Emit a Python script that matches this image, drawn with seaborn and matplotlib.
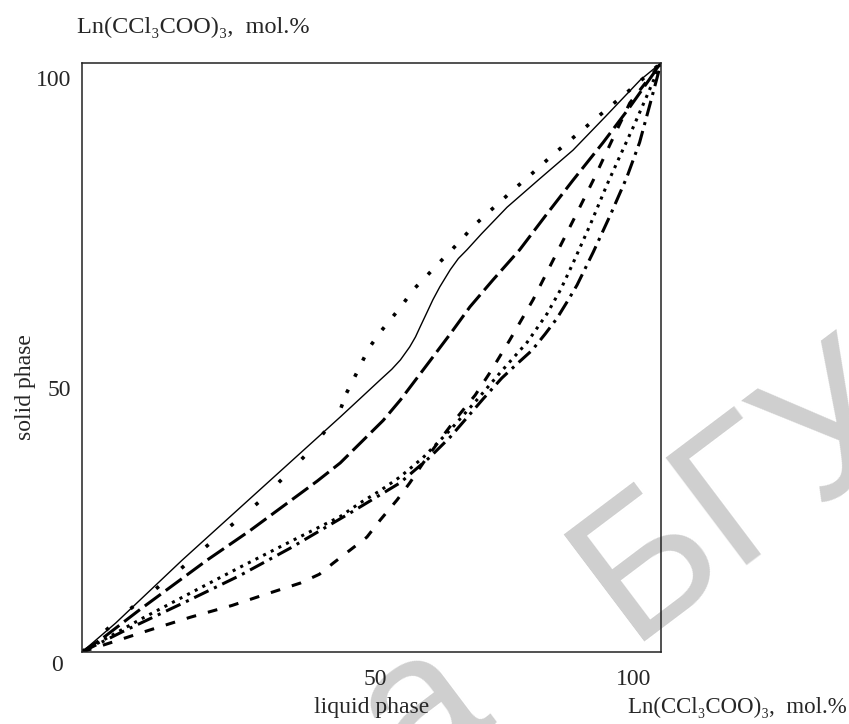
import numpy as np
import pandas as pd
import matplotlib
matplotlib.use('Agg')
import matplotlib.pyplot as plt
import matplotlib.transforms as mtransforms
import seaborn as sns

# ── data: liquid phase (x) vs solid phase (y), mol.% ──
solid_x = [0, 5.8, 17.3, 31, 44.6, 48, 51.5, 53.5, 55, 56.6, 57.6, 58.4, 59.6, 60.6, 61.8,
           63.6, 65, 66.5, 69, 73.4, 79, 84.8, 90.5, 96.4, 100]
solid_y = [0, 4.9, 15.6, 27.8, 39.9, 43, 46.2, 48, 49.6, 51.8, 53.5, 55.2, 57.7, 59.8, 62,
           64.9, 66.8, 68.3, 71, 75.5, 80.3, 85.2, 91, 97.1, 100]

sparse_x = [0, 7.4, 12.1, 16.8, 21.2, 25.9, 30.6, 34.7, 39, 42.8, 44.6, 45.7, 46.6, 47.7, 48.7,
            49.7, 51.5, 53.5, 55.3, 57.2, 59.2, 61.3, 63.4, 65.6, 67.5, 69.9, 72.2, 74.4,
            76.9, 81.3, 86, 90.7, 95.2, 100]
sparse_y = [0, 6.6, 10.2, 13.9, 17.7, 21.6, 25.5, 29.5, 33.8, 38.5, 41.1, 44, 45.7, 47.9, 49.9,
            51.8, 54.3, 56.7, 58.9, 61.5, 63.5, 65.7, 67.8, 70.1, 72.2, 74.4, 76.4, 78.4,
            80.5, 84.4, 88.3, 92.2, 95.9, 100]
SPARSE_SPLIT = 11   # dots are spaced wider below the jump than above it

longdash_x = [0, 3.5, 10, 21.6, 29, 33, 40.6, 44.6, 52, 55, 60, 63.6, 67, 71, 75.6, 80,
              84.8, 90, 94.6, 100]
longdash_y = [0, 2.3, 7.2, 15.6, 20.6, 23.5, 29, 32.1, 39.3, 42.8, 49.3, 54, 58.6, 63.2, 68.3, 74,
              80.1, 86.5, 92.5, 100]

dashed_x = [0, 4.7, 11.6, 18.7, 25.9, 31.1, 37.7, 41, 43.4, 46.3, 49.2, 51.5, 54.4, 56.6, 59,
            61.8, 64.5, 67.9, 70.5, 73.9, 77.9, 81.3, 84.8, 88.3, 91.5, 94.6, 100]
dashed_y = [0, 1.5, 3.7, 5.9, 7.9, 9.6, 11.7, 13.2, 15.1, 17.3, 19.5, 22.4, 25.8, 28.7, 32.2,
            36, 39.5, 43.6, 47.5, 53, 59.8, 66.4, 73.2, 80.1, 86.8, 93.2, 100]

dotted_x = [0, 10, 18.7, 27.3, 35.9, 44.6, 48, 51.5, 54.9, 58.9, 63.6, 68.2, 72.2, 76.9, 80.3,
            82.7, 84.8, 87.8, 90.7, 93, 95.2, 97.6, 100]
dotted_y = [0, 5.5, 10, 14.4, 18.7, 23, 25.3, 27.4, 29.7, 33, 37.7, 42.8, 47.4, 52.6, 57.4,
            61.6, 66, 72.6, 79.4, 84.4, 89.1, 94.5, 100]

dashdot_x = [0, 6.9, 18.5, 27.3, 35.9, 46.3, 54.9, 60, 63.6, 66.5, 69.3, 72.5, 75, 77.7, 80,
             82, 84, 85.5, 88.3, 91.3, 94.1, 96.3, 98.1, 100]
dashdot_y = [0, 3.4, 8.8, 13, 17.6, 23.6, 28.7, 33, 36.5, 39.8, 43, 46.5, 48.8, 51.2, 54,
             56.6, 59.8, 62.3, 67.9, 74.3, 80.6, 86.5, 93, 100]

CURVES = {
    'solid':     (solid_x, solid_y),
    'sparse_lo': (sparse_x[:SPARSE_SPLIT + 1], sparse_y[:SPARSE_SPLIT + 1]),
    'sparse_hi': (sparse_x[SPARSE_SPLIT:], sparse_y[SPARSE_SPLIT:]),
    'longdash':  (longdash_x, longdash_y),
    'dashed':    (dashed_x, dashed_y),
    'dotted':    (dotted_x, dotted_y),
    'dashdot':   (dashdot_x, dashdot_y),
}

TICKS = [0, 50, 100]
AXIS_LABEL = 'Ln(CCl₃COO)₃,  mol.%'

frames = [pd.DataFrame({'liquid': xs, 'solid': ys, 'curve': name})
          for name, (xs, ys) in CURVES.items()]
df = pd.concat(frames, ignore_index=True)

# dash patterns (in linewidth units) and widths
dashes = {
    'solid':     '',
    'sparse_lo': (1, 8),
    'sparse_hi': (1, 4),
    'longdash':  (6.5, 2),
    'dashed':    (3.2, 4),
    'dotted':    (1, 1.8),
    'dashdot':   (5.2, 2, 1, 2),
}
sizes = {'solid': 1.0, 'sparse_lo': 2.6, 'sparse_hi': 2.6, 'longdash': 2.2,
         'dashed': 2.2, 'dotted': 2.2, 'dashdot': 2.2}

sns.set_style('white')
SERIF = ['Liberation Serif', 'DejaVu Serif']
plt.rcParams['font.family'] = SERIF

fig = plt.figure(figsize=(8.49, 7.24), dpi=100)
ax = fig.add_axes([82 / 849, 1 - 652 / 724, 579 / 849, 589 / 724])
ax.set_zorder(1)
ax.patch.set_visible(False)

sns.lineplot(data=df, x='liquid', y='solid', hue='curve', style='curve', size='curve',
             palette={k: 'black' for k in CURVES}, dashes=dashes, sizes=sizes,
             estimator=None, sort=False, legend=False, ax=ax)

ax.set_xlim(0, 100)
ax.set_ylim(0, 100)
ax.set_xticks(TICKS[1:])
ax.set_yticks(TICKS)
ax.tick_params(length=0, labelsize=17)
ax.tick_params(axis='y', pad=8)
ax.tick_params(axis='x', pad=12)
for s in ax.spines.values():
    s.set_visible(True)
    s.set_color('#222222')
    s.set_linewidth(1.1)

# the printed figure has its tick labels shifted a little off the ticks
def shift(label, dx, dy):
    label.set_transform(label.get_transform() +
                        mtransforms.ScaledTranslation(dx / 72, dy / 72, fig.dpi_scale_trans))

ylabels = ax.get_yticklabels()
shift(ylabels[0], -6, -8)
shift(ylabels[1], 0, -22)
shift(ylabels[2], 0, -11)
xlabels = ax.get_xticklabels()
shift(xlabels[0], 3, 0)
shift(xlabels[1], -20, 0)

ax.set_xlabel('liquid phase', fontsize=17)
ax.set_ylabel('solid phase', fontsize=17)
ax.xaxis.set_label_coords(0.501, -0.077)
ax.yaxis.set_label_coords(-0.08, 0.45)

fig.text(77 / 849, 1 - 27 / 724, AXIS_LABEL, fontsize=17.5, ha='left', va='center', family=SERIF)
fig.text(628 / 849, 1 - 707 / 724, AXIS_LABEL, fontsize=16.5, ha='left', va='center', family=SERIF)

# faint library watermark across the lower right
WM_FONT = ['Liberation Sans', 'DejaVu Sans']
fig.text(0.872, 0.318, 'БГУ', rotation=37, rotation_mode='anchor', color='#cfcfcf',
         fontsize=140, ha='center', va='center', family=WM_FONT, zorder=0)
fig.text(0.497, 0.02, 'а', rotation=37, rotation_mode='anchor', color='#cfcfcf',
         fontsize=140, ha='center', va='center', family=WM_FONT, zorder=0)

fig.savefig('out.png', dpi=100, facecolor='white')
